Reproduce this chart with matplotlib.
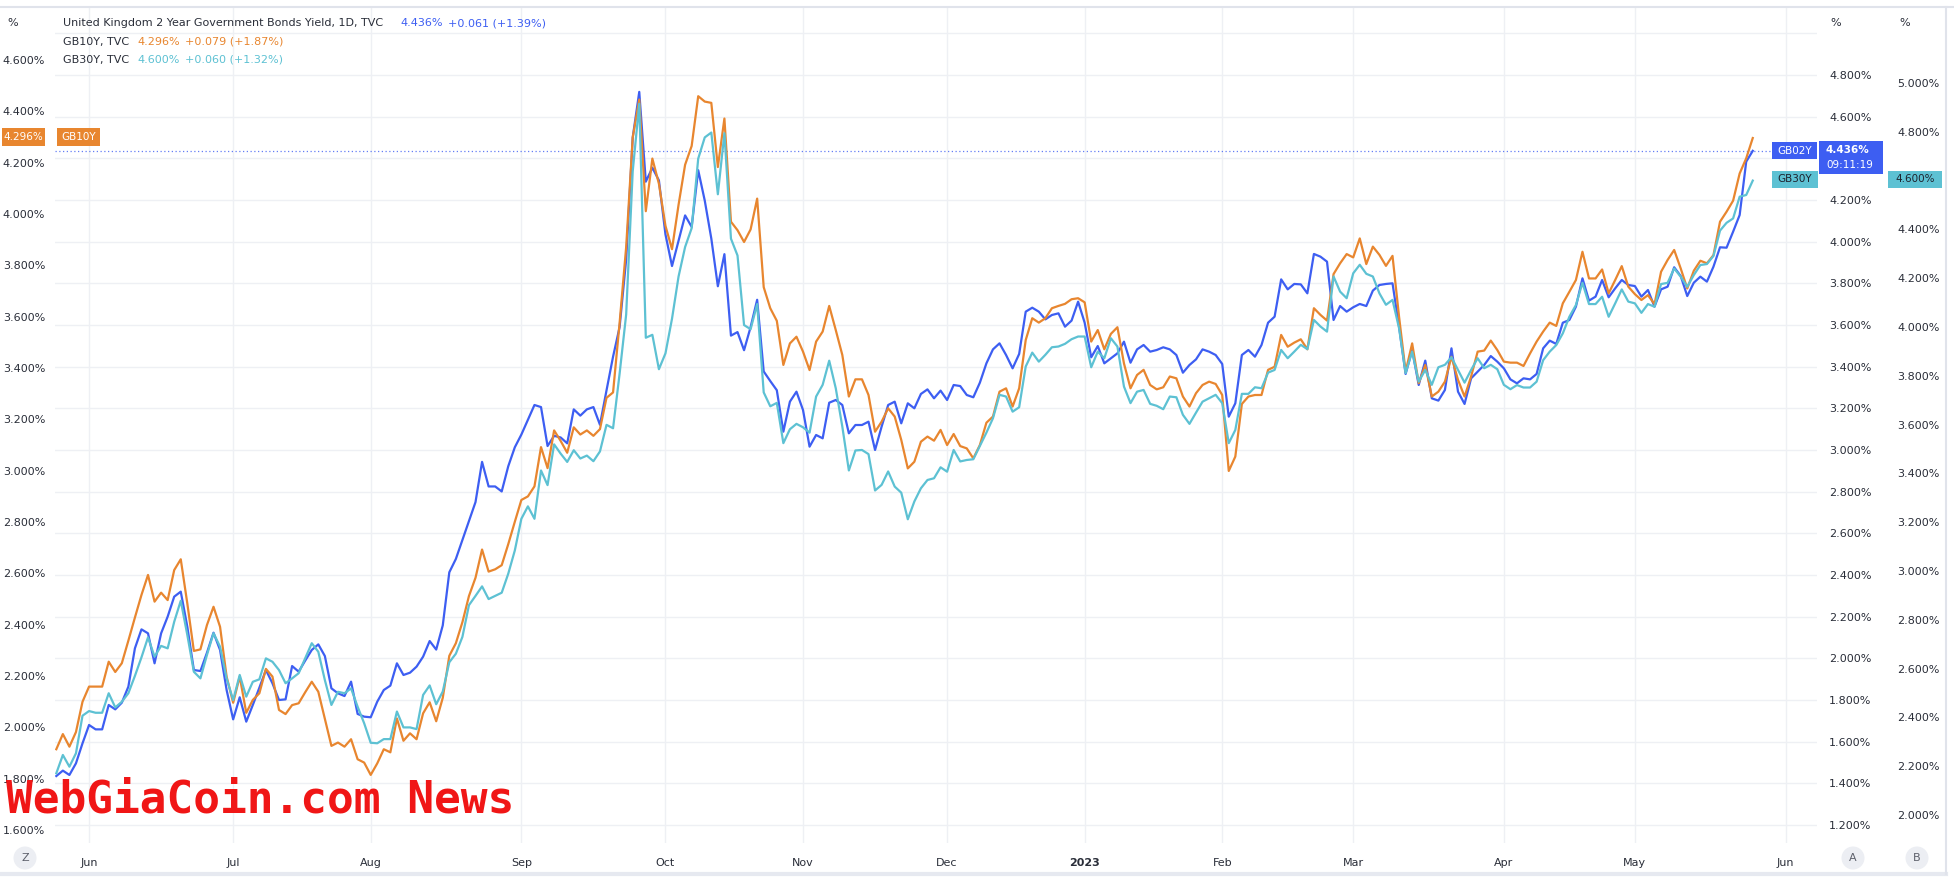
import matplotlib
matplotlib.use("Agg")
import matplotlib.pyplot as plt
from matplotlib.patches import Rectangle, Circle
import numpy as np
import pandas as pd

# trading calendar (TVC daily bars)
start_date = "2022-05-25"
end_date = "2023-06-09"
holidays = ["2022-12-26", "2023-01-02"]

gb02y = [1.435, 1.461, 1.440, 1.496, 1.592, 1.680, 1.659, 1.659, 1.776, 1.755, 1.787,
         1.864, 2.048, 2.139, 2.120, 1.976, 2.120, 2.200, 2.296, 2.320, 2.152,
         1.944, 1.939, 2.027, 2.123, 2.040, 1.848, 1.707, 1.813, 1.696, 1.776,
         1.859, 1.944, 1.880, 1.800, 1.803, 1.963, 1.936, 1.989, 2.040, 2.067,
         2.011, 1.856, 1.832, 1.819, 1.888, 1.733, 1.720, 1.717, 1.792, 1.848,
         1.869, 1.976, 1.920, 1.931, 1.960, 2.008,
         2.083, 2.042, 2.158, 2.413, 2.477, 2.568, 2.659, 2.750, 2.943, 2.825,
         2.825, 2.801, 2.922, 3.013, 3.074, 3.145, 3.216, 3.206, 3.019, 3.068,
         3.060, 3.032, 3.195, 3.165, 3.195, 3.206, 3.121, 3.286, 3.448, 3.590,
         3.914, 4.500, 4.719, 4.288, 4.355, 4.294, 4.035, 3.883, 4.005, 4.126,
         4.071, 4.343, 4.197, 4.015, 3.786, 3.940, 3.549, 3.566, 3.479, 3.590,
         3.721, 3.377, 3.331, 3.287,
         3.088, 3.232, 3.280, 3.192, 3.016, 3.072, 3.056, 3.227, 3.240, 3.216,
         3.080, 3.120, 3.120, 3.136, 3.000, 3.112, 3.216, 3.232, 3.128, 3.224,
         3.200, 3.269, 3.291, 3.248, 3.285, 3.240, 3.312, 3.307, 3.264, 3.253,
         3.323, 3.416, 3.483, 3.512, 3.456, 3.392, 3.461, 3.664, 3.683, 3.664,
         3.627, 3.648, 3.656, 3.592, 3.621, 3.712, 3.611, 3.445, 3.499, 3.416,
         3.440, 3.464, 3.520, 3.419, 3.483,
         3.504, 3.472, 3.480, 3.493, 3.483, 3.456, 3.371, 3.408, 3.435, 3.483,
         3.472, 3.456, 3.413, 3.160, 3.224, 3.456, 3.480, 3.448, 3.504, 3.611,
         3.640, 3.819, 3.771, 3.797, 3.795, 3.752, 3.941, 3.928, 3.904, 3.624,
         3.691, 3.664, 3.685, 3.701, 3.691, 3.765, 3.792, 3.797, 3.800, 3.592,
         3.365, 3.480, 3.312, 3.429, 3.248, 3.237, 3.288, 3.488, 3.280, 3.221,
         3.344, 3.376, 3.408, 3.451, 3.424, 3.392, 3.339,
         3.320, 3.344, 3.339, 3.365, 3.488, 3.525, 3.509, 3.611, 3.624, 3.688,
         3.824, 3.717, 3.736, 3.816, 3.733, 3.776, 3.816, 3.792, 3.787, 3.736,
         3.768, 3.688, 3.771, 3.784, 3.877, 3.835, 3.739, 3.803, 3.832, 3.808,
         3.880, 3.973, 3.971, 4.048, 4.128, 4.384, 4.436]

gb10y = [1.915, 1.974, 1.925, 1.982, 2.100, 2.159, 2.159, 2.159, 2.256, 2.216, 2.250,
         2.338, 2.428, 2.516, 2.594, 2.490, 2.525, 2.496, 2.613, 2.655, 2.483,
         2.298, 2.304, 2.399, 2.470, 2.392, 2.198, 2.096, 2.198, 2.057, 2.107,
         2.133, 2.228, 2.198, 2.068, 2.052, 2.087, 2.094, 2.137, 2.178, 2.139,
         2.033, 1.928, 1.941, 1.925, 1.954, 1.876, 1.863, 1.815, 1.860, 1.915,
         1.903, 2.035, 1.948, 1.977, 1.954, 2.055,
         2.098, 2.024, 2.115, 2.279, 2.328, 2.410, 2.512, 2.583, 2.693, 2.607,
         2.616, 2.632, 2.714, 2.801, 2.886, 2.900, 2.939, 3.092, 3.010, 3.157,
         3.116, 3.070, 3.169, 3.141, 3.157, 3.136, 3.162, 3.284, 3.305, 3.576,
         3.871, 4.298, 4.446, 4.011, 4.216, 4.118, 3.954, 3.863, 4.036, 4.192,
         4.265, 4.459, 4.438, 4.433, 4.183, 4.372, 3.970, 3.937, 3.891, 3.940,
         4.060, 3.715, 3.633, 3.584,
         3.412, 3.496, 3.522, 3.464, 3.392, 3.503, 3.542, 3.642, 3.548, 3.451,
         3.289, 3.356, 3.356, 3.295, 3.152, 3.191, 3.243, 3.211, 3.120, 3.009,
         3.035, 3.113, 3.133, 3.117, 3.159, 3.100, 3.143, 3.096, 3.087, 3.048,
         3.100, 3.187, 3.211, 3.308, 3.321, 3.250, 3.321, 3.509, 3.594, 3.577,
         3.594, 3.633, 3.642, 3.650, 3.668, 3.672, 3.656, 3.503, 3.548, 3.473,
         3.533, 3.559, 3.418, 3.321, 3.373,
         3.393, 3.334, 3.317, 3.325, 3.367, 3.360, 3.289, 3.250, 3.302, 3.334,
         3.347, 3.338, 3.295, 2.999, 3.055, 3.260, 3.289, 3.295, 3.295, 3.393,
         3.405, 3.529, 3.483, 3.499, 3.512, 3.473, 3.633, 3.607, 3.585, 3.766,
         3.808, 3.844, 3.831, 3.905, 3.805, 3.873, 3.841, 3.798, 3.837, 3.600,
         3.386, 3.496, 3.341, 3.412, 3.289, 3.308, 3.347, 3.444, 3.354, 3.289,
         3.367, 3.464, 3.468, 3.507, 3.470, 3.425, 3.421,
         3.421, 3.408, 3.457, 3.503, 3.542, 3.577, 3.564, 3.652, 3.697, 3.743,
         3.853, 3.749, 3.749, 3.784, 3.691, 3.743, 3.797, 3.717, 3.688, 3.665,
         3.684, 3.649, 3.775, 3.821, 3.860, 3.788, 3.710, 3.779, 3.818, 3.808,
         3.840, 3.970, 4.009, 4.052, 4.158, 4.217, 4.296]

gb30y = [2.171, 2.246, 2.198, 2.253, 2.407, 2.426, 2.419, 2.419, 2.499, 2.441, 2.464,
         2.499, 2.570, 2.646, 2.728, 2.649, 2.693, 2.683, 2.792, 2.878, 2.738,
         2.587, 2.560, 2.656, 2.745, 2.690, 2.560, 2.471, 2.574, 2.485, 2.546,
         2.556, 2.642, 2.628, 2.594, 2.540, 2.560, 2.581, 2.642, 2.704, 2.669,
         2.553, 2.451, 2.505, 2.499, 2.519, 2.444, 2.376, 2.296, 2.294, 2.311,
         2.311, 2.424, 2.359, 2.359, 2.352, 2.492,
         2.531, 2.454, 2.506, 2.626, 2.661, 2.730, 2.860, 2.898, 2.937, 2.885,
         2.898, 2.911, 2.989, 3.084, 3.214, 3.265, 3.214, 3.412, 3.352, 3.519,
         3.481, 3.447, 3.495, 3.461, 3.473, 3.450, 3.490, 3.599, 3.585, 3.809,
         4.051, 4.638, 4.915, 3.956, 3.968, 3.827, 3.892, 4.034, 4.207, 4.328,
         4.405, 4.690, 4.777, 4.797, 4.544, 4.794, 4.362, 4.293, 4.008, 3.991,
         4.094, 3.732, 3.675, 3.689,
         3.524, 3.581, 3.603, 3.589, 3.567, 3.715, 3.763, 3.862, 3.749, 3.592,
         3.412, 3.494, 3.496, 3.479, 3.330, 3.353, 3.408, 3.346, 3.321, 3.212,
         3.285, 3.339, 3.373, 3.380, 3.425, 3.407, 3.496, 3.449, 3.455, 3.458,
         3.513, 3.567, 3.626, 3.722, 3.715, 3.653, 3.671, 3.838, 3.895, 3.858,
         3.886, 3.917, 3.920, 3.931, 3.950, 3.961, 3.961, 3.835, 3.899, 3.872,
         3.954, 3.920, 3.756, 3.688, 3.735,
         3.742, 3.685, 3.677, 3.663, 3.715, 3.712, 3.640, 3.603, 3.649, 3.694,
         3.708, 3.722, 3.688, 3.524, 3.578, 3.726, 3.726, 3.753, 3.749, 3.813,
         3.824, 3.906, 3.872, 3.899, 3.927, 3.909, 4.029, 4.002, 3.981, 4.207,
         4.145, 4.118, 4.220, 4.255, 4.218, 4.207, 4.138, 4.091, 4.111, 3.995,
         3.811, 3.899, 3.776, 3.824, 3.763, 3.835, 3.845, 3.876, 3.824, 3.772,
         3.824, 3.872, 3.831, 3.845, 3.827, 3.763, 3.745,
         3.762, 3.752, 3.752, 3.776, 3.864, 3.899, 3.926, 3.974, 4.042, 4.090,
         4.181, 4.094, 4.094, 4.124, 4.042, 4.097, 4.154, 4.104, 4.097, 4.058,
         4.094, 4.083, 4.176, 4.181, 4.240, 4.206, 4.165, 4.213, 4.254, 4.258,
         4.291, 4.395, 4.427, 4.445, 4.534, 4.541, 4.600]

left_ticks = [1.6, 1.8, 2.0, 2.2, 2.4, 2.6, 2.8, 3.0, 3.2, 3.4, 3.6, 3.8, 4.0, 4.2, 4.4, 4.6]
a_ticks = [1.2, 1.4, 1.6, 1.8, 2.0, 2.2, 2.4, 2.6, 2.8, 3.0, 3.2, 3.4, 3.6, 3.8, 4.0, 4.2, 4.4, 4.6, 4.8, 5.0]
b_ticks = [2.0, 2.2, 2.4, 2.6, 2.8, 3.0, 3.2, 3.4, 3.6, 3.8, 4.0, 4.2, 4.4, 4.6, 4.8, 5.0]

BLUE = "#3d5ef2"
ORANGE = "#e8862f"
CYAN = "#5dc1d3"
TXT = "#2a2e39"
GRID = "#eef0f4"

W, H = 1954, 886
plt.rcParams["font.family"] = ["DejaVu Sans"]

cal = pd.bdate_range(start_date, end_date)
cal = cal[~cal.isin(pd.to_datetime(holidays))]
xs = np.arange(len(gb02y))

fig = plt.figure(figsize=(W / 100, H / 100), dpi=100)
fig.patch.set_facecolor("white")


def fx(x):
    return x / W


def fy(y):
    return 1 - y / H


# plot area in pixels
PL, PR, PT, PB = 55, 1817, 8, 843
rect = [fx(PL), fy(PB), (PR - PL) / W, (PB - PT) / H]

ax_a = fig.add_axes(rect)
ax_l = fig.add_axes(rect, sharex=ax_a)
ax_b = fig.add_axes(rect, sharex=ax_a)
for a in (ax_a, ax_l, ax_b):
    a.set_facecolor("none")
    for s in a.spines.values():
        s.set_visible(False)
    a.tick_params(length=0, labelsize=8, colors=TXT)

px_per_bar = 6.55
ax_a.set_xlim(-0.2, (PR - PL) / px_per_bar - 0.2)

# y ranges chosen from the pixel scales of the three price axes
ax_l.set_ylim(4.6 - (PB - 60) / 256.7, 4.6 + (60 - PT) / 256.7)
ax_a.set_ylim(4.8 - (PB - 75) / 208.33, 4.8 + (75 - PT) / 208.33)
ax_b.set_ylim(5.0 - (PB - 83) / 244.0, 5.0 + (83 - PT) / 244.0)

# month ticks at first bar of each month
month_idx = [i for i in range(1, len(cal)) if cal[i].month != cal[i - 1].month]
month_lab = ["2023" if cal[i].month == 1 else cal[i].strftime("%b") for i in month_idx]

ax_a.set_xticks(month_idx)
ax_a.set_xticklabels([])
ax_a.set_yticks(a_ticks)
ax_a.grid(True, color=GRID, lw=1)
ax_a.set_axisbelow(True)
ax_a.yaxis.tick_right()
ax_a.set_yticklabels(["" if t in (4.4, 5.0) else f"{t:.3f}%" for t in a_ticks])
ax_a.tick_params(axis="y", pad=8.6)
for lab in ax_a.get_yticklabels():
    lab.set_horizontalalignment("left")

ax_l.set_yticks(left_ticks)
ax_l.set_yticklabels([f"{t:.3f}%" for t in left_ticks])
ax_l.tick_params(axis="y", pad=7)
ax_l.tick_params(axis="x", labelbottom=False)

ax_b.yaxis.tick_right()
ax_b.set_yticks(b_ticks)
ax_b.set_yticklabels(["" if t == 4.6 else f"{t:.3f}%" for t in b_ticks])
ax_b.tick_params(axis="y", pad=57.6)
ax_b.tick_params(axis="x", labelbottom=False)

ax_b.plot(xs, gb30y, color=CYAN, lw=1.6, zorder=3)
ax_l.plot(xs, gb10y, color=ORANGE, lw=1.6, zorder=3)
ax_a.plot(xs, gb02y, color=BLUE, lw=1.6, zorder=3)
ax_a.axhline(gb02y[-1], color=BLUE, lw=0.9, ls=(0, (1, 2)), alpha=0.8, zorder=2)

# month labels
for i, lab in zip(month_idx, month_lab):
    ax_a.annotate(lab, xy=(i, 0), xycoords=("data", "axes fraction"),
                  xytext=(0, -14.5), textcoords="offset points",
                  ha="center", va="center", fontsize=8, color=TXT,
                  fontweight="bold" if lab == "2023" else "normal")


def box(x0, y0, x1, y1, color):
    fig.add_artist(Rectangle((fx(x0), fy(y1)), (x1 - x0) / W, (y1 - y0) / H,
                             transform=fig.transFigure, color=color, lw=0))


def ftext(x, y, s, **kw):
    kw.setdefault("fontsize", 7.5)
    kw.setdefault("va", "center")
    return fig.text(fx(x), fy(y), s, **kw)


# frame lines
fig.add_artist(plt.Line2D([0, 1], [fy(7), fy(7)], color="#e0e3eb", lw=1.5))
fig.add_artist(plt.Line2D([0, fx(1946)], [fy(874), fy(874)], color="#e6e9f0", lw=3))
fig.add_artist(plt.Line2D([fx(1946), fx(1946)], [fy(7), fy(874)], color="#e0e3eb", lw=1.5))

# legend
ftext(63, 23, "United Kingdom 2 Year Government Bonds Yield, 1D, TVC", color=TXT, fontsize=8)
ftext(400, 23, "4.436%", color=BLUE, fontsize=8)
ftext(448, 23, "+0.061 (+1.39%)", color=BLUE, fontsize=8)
ftext(63, 42, "GB10Y, TVC", color=TXT, fontsize=8)
ftext(137, 42, "4.296%", color=ORANGE, fontsize=8)
ftext(185, 42, "+0.079 (+1.87%)", color=ORANGE, fontsize=8)
ftext(63, 60, "GB30Y, TVC", color=TXT, fontsize=8)
ftext(137, 60, "4.600%", color=CYAN, fontsize=8)
ftext(185, 60, "+0.060 (+1.32%)", color=CYAN, fontsize=8)

ftext(7, 23, "%", color=TXT, fontsize=8)
ftext(1830, 23, "%", color=TXT, fontsize=8)
ftext(1899, 23, "%", color=TXT, fontsize=8)

# last value labels
box(2, 128, 45, 146, ORANGE)
ftext(23.5, 137, "4.296%", color="white", ha="center")
box(57, 128, 100, 146, ORANGE)
ftext(78.5, 137, "GB10Y", color="white", ha="center")

box(1772, 142, 1817, 159, BLUE)
ftext(1794.5, 150.5, "GB02Y", color="white", ha="center")
box(1819, 141, 1883, 174, BLUE)
ftext(1826, 150, "4.436%", color="white", fontweight="bold")
ftext(1826, 165, "09:11:19", color="white")

box(1772, 171, 1818, 188, CYAN)
ftext(1795, 179.5, "GB30Y", color="#1e222d", ha="center")
box(1888, 171, 1942, 188, CYAN)
ftext(1915, 179.5, "4.600%", color="#1e222d", ha="center")

# small round buttons (drawn in inches so they stay round)
for cx, s in [(25, "Z"), (1853, "A"), (1917, "B")]:
    fig.add_artist(Circle((cx / 100, (H - 858) / 100), 0.115,
                          transform=fig.dpi_scale_trans, color="#eceef3", lw=0))
    ftext(cx, 858, s, color="#5d606b", ha="center", fontsize=8)

# watermark
ftext(6, 800, "WebGiaCoin.com News", color="#f01616", fontsize=32,
      family="DejaVu Sans Mono", fontweight="bold", ha="left", zorder=10)

fig.savefig("out.png", dpi=100)
